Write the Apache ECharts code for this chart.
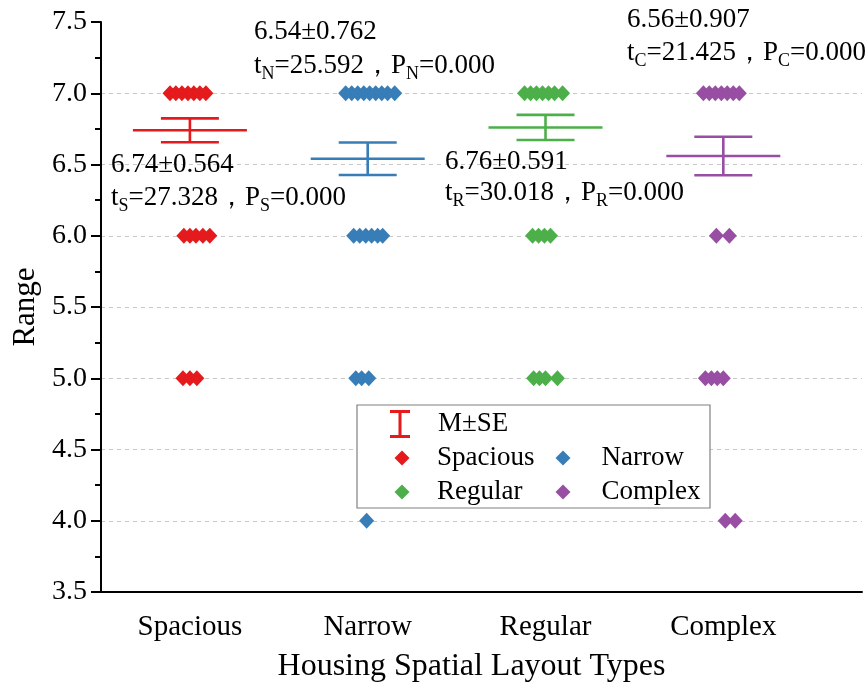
<!DOCTYPE html>
<html>
<head>
<meta charset="utf-8">
<script src="https://cdn.jsdelivr.net/npm/echarts@6/dist/echarts.min.js"></script>
<style>html,body{margin:0;padding:0;background:#fff}#c{width:867px;height:688px}</style>
</head>
<body>
<div id="c"></div>
<script>
// ---- data ----
var categories = ['Spacious', 'Narrow', 'Regular', 'Complex'];
var subs = ['S', 'N', 'R', 'C'];
var means = [6.74, 6.54, 6.76, 6.56];
var sds = [0.564, 0.762, 0.591, 0.907];
var ses = [0.084, 0.114, 0.088, 0.135];
var tvals = ['27.328', '25.592', '30.018', '21.425'];
var pvals = ['0.000', '0.000', '0.000', '0.000'];
var yTicks = [3.5, 4.0, 4.5, 5.0, 5.5, 6.0, 6.5, 7.0, 7.5];
// points: [value, horizontal jitter in category units]
var spaciousPts = [[7,-0.112],[7,-0.079],[7,-0.045],[7,-0.011],[7,0.022],[7,0.056],[7,0.09],
  [6,-0.034],[6,0],[6,0.034],[6,0.073],[6,0.112],
  [5,-0.039],[5,0],[5,0.039]];
var narrowPts = [[7,-0.124],[7,-0.09],[7,-0.056],[7,-0.022],[7,0.011],[7,0.045],[7,0.079],[7,0.112],[7,0.152],
  [6,-0.079],[6,-0.045],[6,-0.011],[6,0.022],[6,0.056],[6,0.084],
  [5,-0.067],[5,-0.034],[5,0.006],
  [4,-0.006]];
var regularPts = [[7,-0.118],[7,-0.084],[7,-0.051],[7,-0.017],[7,0.017],[7,0.051],[7,0.096],
  [6,-0.073],[6,-0.039],[6,-0.006],[6,0.028],
  [5,-0.067],[5,-0.034],[5,0],[5,0.067]];
var complexPts = [[7,-0.112],[7,-0.079],[7,-0.045],[7,-0.011],[7,0.022],[7,0.056],[7,0.09],
  [6,-0.039],[6,0.034],
  [5,-0.101],[5,-0.067],[5,-0.034],[5,0],
  [4,0.011],[4,0.067]];
var allPts = [spaciousPts, narrowPts, regularPts, complexPts];
var colors = ['#e41a1c', '#377eb8', '#4daf4a', '#984ea3'];

// ---- build ----
var FONT = '"Liberation Serif","Times New Roman",serif';
var chart = echarts.init(document.getElementById('c'));

var scatterSeries = categories.map(function (name, i) {
  return {
    name: name, type: 'scatter', symbol: 'diamond', symbolSize: [15, 16],
    itemStyle: { color: colors[i], opacity: 1 },
    z: 3,
    data: allPts[i].map(function (p) { return [i + 1 + p[1], p[0]]; })
  };
});

var errData = categories.map(function (c, i) { return [i + 1, means[i], ses[i], i]; });

var errSeries = {
  name: 'M±SE', type: 'custom', z: 4,
  itemStyle: { color: colors[0] },
  encode: { x: 0, y: 1 },
  data: errData,
  renderItem: function (params, api) {
    var x = api.value(0), m = api.value(1), se = api.value(2), idx = api.value(3);
    var c = api.coord([x, m]);
    var t = api.coord([x, m + se]);
    var b = api.coord([x, m - se]);
    var st = { stroke: colors[idx], lineWidth: 2.6, fill: null };
    return {
      type: 'group',
      children: [
        { type: 'line', shape: { x1: c[0] - 57, y1: c[1], x2: c[0] + 57, y2: c[1] }, style: st },
        { type: 'line', shape: { x1: c[0] - 29, y1: t[1], x2: c[0] + 29, y2: t[1] }, style: st },
        { type: 'line', shape: { x1: c[0] - 29, y1: b[1], x2: c[0] + 29, y2: b[1] }, style: st },
        { type: 'line', shape: { x1: c[0], y1: t[1], x2: c[0], y2: b[1] }, style: st }
      ]
    };
  }
};

var ibeam = 'path://M0,0 H20 V3 H11.5 V25 H20 V28 H0 V25 H8.5 V3 H0 Z';
var diamond = 'path://M7.5,0 L15,7.5 L7.5,15 L0,7.5 Z';
function mkLegend(name, icon, w, h, left, top, pad, color) {
  return {
    left: left, top: top, padding: 0, selectedMode: false, z: 6,
    itemWidth: w, itemHeight: h, symbolKeepAspect: true,
    textStyle: { fontFamily: FONT, fontSize: 27, color: '#000', lineHeight: 30, padding: [0, 0, 0, pad] },
    data: [{ name: name, icon: icon, itemStyle: { color: color } }]
  };
}
var legends = [
  mkLegend('M±SE', ibeam, 20, 28, 390, 409, 23, colors[0]),
  mkLegend(categories[0], diamond, 15, 15, 394.5, 443, 22.5, colors[0]),
  mkLegend(categories[2], diamond, 15, 15, 394.5, 477, 22.5, colors[2]),
  mkLegend(categories[1], diamond, 15, 15, 555.5, 443, 26, colors[1]),
  mkLegend(categories[3], diamond, 15, 15, 555.5, 477, 26, colors[3])
];

var annPos = [[111, 165, 198], [254, 32, 66], [445, 162, 193], [627, 20, 53]];
var rich = {
  n: { fontFamily: FONT, fontSize: 27, lineHeight: 34, verticalAlign: 'middle', fill: '#000' },
  s: { fontFamily: FONT, fontSize: 18, lineHeight: 17, verticalAlign: 'bottom', fill: '#000' }
};
var graphics = [{
  type: 'rect', z: 3, shape: { x: 357, y: 405, width: 353, height: 103 },
  style: { fill: '#fff', stroke: '#808080', lineWidth: 1.2 }
}];
categories.forEach(function (c, i) {
  var p = annPos[i];
  graphics.push({
    type: 'text', z: 5, x: p[0], y: p[1],
    style: { text: means[i].toFixed(2) + '±' + sds[i].toFixed(3), font: '27px ' + FONT, fill: '#000', verticalAlign: 'middle' }
  });
  graphics.push({
    type: 'text', z: 5, x: p[0], y: p[2],
    style: {
      text: '{n|t}{s|' + subs[i] + '}{n|=' + tvals[i] + '，P}{s|' + subs[i] + '}{n|=' + pvals[i] + '}',
      rich: rich, font: '27px ' + FONT, fill: '#000', verticalAlign: 'middle'
    }
  });
});

chart.setOption({
  animation: false,
  backgroundColor: '#fff',
  grid: { left: 101, right: 5, top: 22, bottom: 95, containLabel: false },
  xAxis: {
    type: 'value', min: 0.5, max: 4.78,
    name: 'Housing Spatial Layout Types', nameLocation: 'middle', nameGap: 59,
    nameTextStyle: { fontFamily: FONT, fontSize: 32, color: '#000', padding: [0, 20, 0, 0] },
    axisLine: { onZero: false, lineStyle: { color: '#000', width: 2 } },
    axisTick: { show: false },
    splitLine: { show: false },
    axisLabel: {
      customValues: [1, 2, 3, 4], margin: 21,
      fontFamily: FONT, fontSize: 29, color: '#000',
      formatter: function (v) { return categories[Math.round(v) - 1]; }
    }
  },
  yAxis: {
    type: 'value', min: yTicks[0], max: yTicks[yTicks.length - 1], interval: 0.5,
    name: 'Range', nameLocation: 'middle', nameGap: 60,
    nameTextStyle: { fontFamily: FONT, fontSize: 31, color: '#000' },
    axisLine: { show: true, lineStyle: { color: '#000', width: 2 } },
    axisTick: { show: true, inside: false, length: 10, lineStyle: { color: '#000', width: 2 } },
    minorTick: { show: true, splitNumber: 2, length: 6, lineStyle: { color: '#000', width: 2 } },
    splitLine: { show: true, showMinLine: false, showMaxLine: false, lineStyle: { color: '#c8c8c8', type: [4, 4], width: 1 } },
    axisLabel: {
      margin: 14, fontFamily: FONT, fontSize: 28, color: '#000',
      formatter: function (v) { return v.toFixed(1); }
    }
  },
  legend: legends,
  graphic: graphics,
  series: scatterSeries.concat([errSeries])
});
</script>
</body>
</html>
